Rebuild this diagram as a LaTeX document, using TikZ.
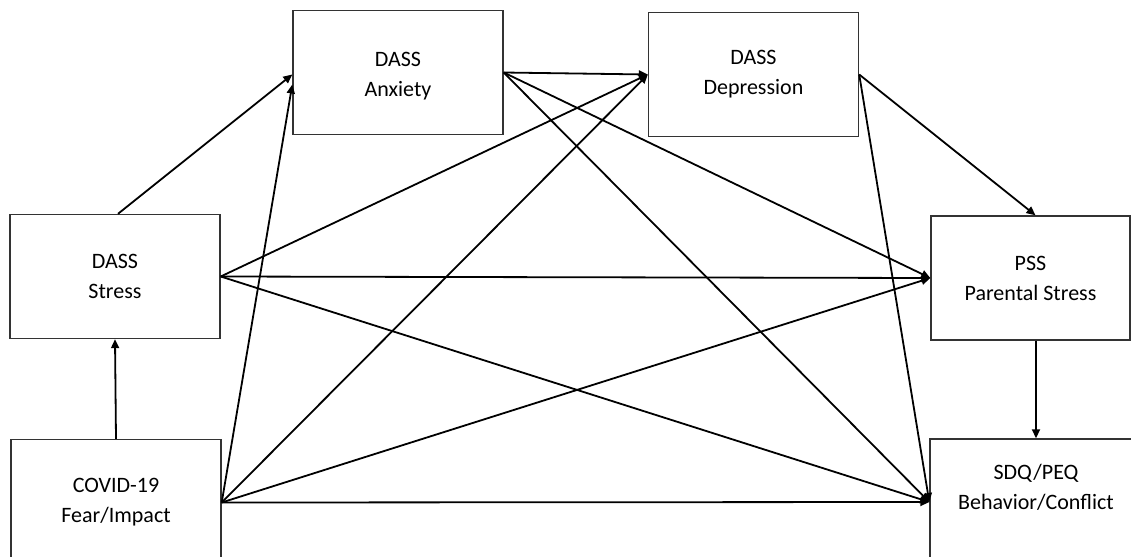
\documentclass[tikz,border=0pt]{standalone}
\usepackage{fontspec}
\setmainfont{Carlito}
\usetikzlibrary{arrows.meta}
\tikzset{
  varbox/.style={
    draw=black!80,
    line width=0.7pt,
    shape=rectangle,
    inner sep=0pt,
    align=center,
    minimum width=105pt,
    minimum height=62pt,
    font=\fontsize{11}{15}\selectfont
  },
  effect/.style={
    draw,
    line width=0.9pt,
    -{Triangle[length=4.5pt,width=4pt]}
  }
}
\begin{document}
\begin{tikzpicture}[x=0.5pt,y=-0.5pt]
  \clip (0,0) rectangle (1131,557);
  \fill[white] (0,0) rectangle (1131,557);
  % variables
  \node[varbox] (stress) at (115,276.5) {DASS\\Stress};
  \node[varbox,minimum height=63pt] (covid) at (116,502.5) {COVID-19\\Fear/Impact};
  \node[varbox,text height=26pt] (anx) at (398,72.5) {DASS\\Anxiety};
  \node[varbox] (dep) at (753.5,74.5) {DASS\\Depression};
  \node[varbox,minimum width=99.5pt] (pss) at (1030.5,278) {PSS\\Parental Stress};
  \node[varbox,minimum width=106pt,minimum height=63pt,text depth=15pt] (sdq) at (1036,502) {SDQ/PEQ\\Behavior/Conflict};
  % paths
  \draw[effect] (covid.north) -- (stress.south);
  \draw[effect] ([xshift=1.5pt]stress.north) -- ([yshift=-1pt]anx.west);
  \draw[effect] (covid.east) -- ([yshift=-6pt]anx.west);
  \foreach \src in {covid,stress,anx}{
    \draw[effect] (\src.east) -- (dep.west);
    \draw[effect] (\src.east) -- (pss.west);
    \draw[effect] (\src.east) -- (sdq.west);
  }
  \draw[effect] (dep.east) -- ([xshift=2.5pt]pss.north);
  \draw[effect] (dep.east) -- (sdq.west);
  \draw[effect] (pss.south -| sdq.north) -- (sdq.north);
\end{tikzpicture}
\end{document}
